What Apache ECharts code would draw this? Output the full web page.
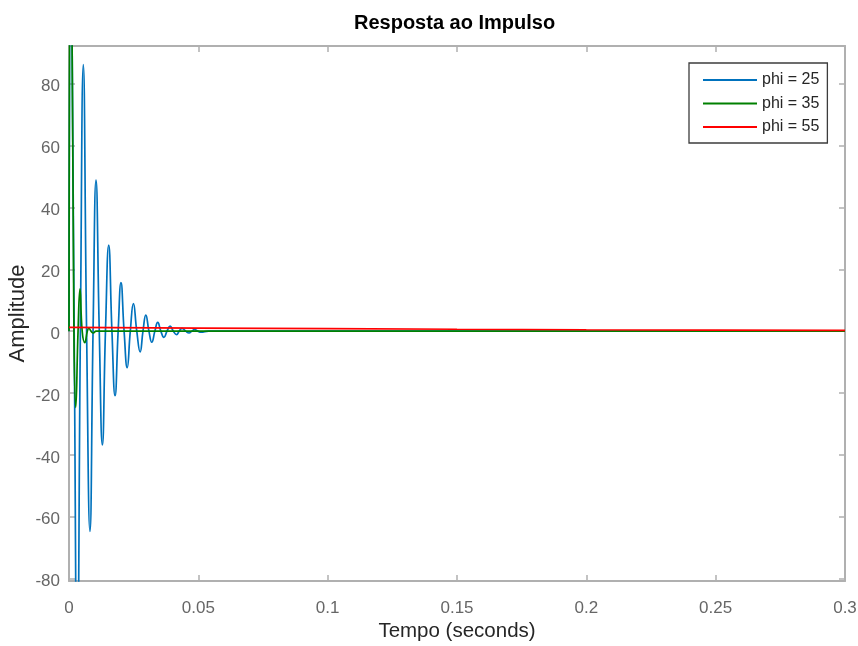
<!DOCTYPE html>
<html>
<head>
<meta charset="utf-8">
<script src="https://cdn.jsdelivr.net/npm/echarts@6/dist/echarts.min.js"></script>
<style>
  html, body { margin: 0; padding: 0; background: #fff; }
  #chart { width: 858px; height: 646px; }
</style>
</head>
<body>
<div id="chart"></div>
<script>
// ---- data ----
const seriesNames = ['phi = 25', 'phi = 35', 'phi = 55'];

const blueT = [0, 0.0008, 0.0020, 0.0032, 0.0044, 0.00553, 0.0068, 0.0081, 0.0093, 0.01044,
  0.0117, 0.0129, 0.0141, 0.01535, 0.0166, 0.0178, 0.0190, 0.0201, 0.0213, 0.0225,
  0.0237, 0.0249, 0.0262, 0.0275, 0.0286, 0.0297, 0.0309, 0.0320, 0.0332, 0.0343,
  0.0355, 0.0367, 0.0379, 0.0391, 0.0403, 0.0416, 0.0426, 0.0437, 0.0451, 0.0464,
  0.0475, 0.0485, 0.0498, 0.0510, 0.054, 0.06, 0.1, 0.2, 0.3];
const blueY = [0, 140, 0, -114, 0, 86.2, 0, -64.8, 0, 48.8,
  0, -36.8, 0, 27.8, 0, -20.9, 0, 15.7, 0, -11.8,
  0, 8.9, 0, -6.7, 0, 5.2, 0, -3.6, 0, 2.8,
  0, -2.0, 0, 1.6, 0, -1.1, 0, 0.9, 0, -0.6,
  0, 0.5, 0, -0.35, 0, 0, 0, 0, 0];

const greenT = [0, 0.0007, 0.0019, 0.0026, 0.0035, 0.00425, 0.0051, 0.0061, 0.0071, 0.0077,
  0.0085, 0.0094, 0.0105, 0.014, 0.1, 0.2, 0.3];
const greenY = [0, 160, 0, -24.7, 0, 13.7, 0, -3.7, 0, 1.0,
  0, -0.6, 0, 0, 0, 0, 0];

const redT = [0, 0.05, 0.1, 0.15, 0.2, 0.25, 0.3];
const redY = [1.2, 1.0, 0.8, 0.6, 0.45, 0.35, 0.25];

const xTicks = [0, 0.05, 0.1, 0.15, 0.2, 0.25, 0.3];
const yTicks = [-80, -60, -40, -20, 0, 20, 40, 60, 80];

// ---- chart ----
const pairs = (t, y) => t.map((v, i) => [v, y[i]]);
const FONT = 'Liberation Sans, Arial, Helvetica, sans-serif';
const axisGray = '#b0b0b0';
const labelGray = '#666666';

const chart = echarts.init(document.getElementById('chart'), null, { renderer: 'canvas' });

const xBase = {
  type: 'value', min: xTicks[0], max: xTicks[xTicks.length - 1], interval: 0.05,
  splitLine: { show: false },
  axisLine: { show: true, onZero: false, lineStyle: { color: axisGray, width: 2 } },
  axisTick: { show: true, inside: true, length: 6, lineStyle: { color: axisGray, width: 1.5 } }
};
const yBase = {
  type: 'value', min: -80.8, max: 92.2,
  splitLine: { show: false },
  axisLine: { show: true, onZero: false, lineStyle: { color: axisGray, width: 2 } },
  axisTick: { show: true, inside: true, length: 6, customValues: yTicks, lineStyle: { color: axisGray, width: 1.5 } }
};

chart.setOption({
  animation: false,
  backgroundColor: '#ffffff',
  title: {
    text: 'Resposta ao Impulso',
    left: 349, top: 8,
    textStyle: { fontFamily: FONT, fontSize: 20, fontWeight: 'bold', color: '#000' }
  },
  grid: { left: 69, right: 13, top: 46, bottom: 65, containLabel: false, outerBoundsMode: 'none' },
  legend: {
    orient: 'vertical', left: 689, top: 63,
    padding: [9, 8, 8, 13],
    itemWidth: 54, itemHeight: 14, itemGap: 7.5,
    borderColor: '#3c3c3c', borderWidth: 1.3, backgroundColor: '#fff',
    itemStyle: { opacity: 0 },
    textStyle: { fontFamily: FONT, fontSize: 16, color: '#262626' },
    data: seriesNames
  },
  xAxis: [
    Object.assign({}, xBase, {
      position: 'bottom',
      name: 'Tempo (seconds)', nameLocation: 'middle', nameGap: 40, nameMoveOverlap: false,
      nameTextStyle: { fontFamily: FONT, fontSize: 20.5, color: '#262626' },
      axisLabel: {
        fontFamily: FONT, fontSize: 17, color: labelGray, margin: 19,
        formatter: v => String(v)
      }
    }),
    Object.assign({}, xBase, { position: 'top', axisLabel: { show: false } })
  ],
  yAxis: [
    Object.assign({}, yBase, {
      position: 'left',
      name: 'Amplitude', nameLocation: 'middle', nameGap: 40, nameMoveOverlap: false,
      nameTextStyle: { fontFamily: FONT, fontSize: 22, color: '#262626' },
      axisLabel: {
        fontFamily: FONT, fontSize: 17, color: labelGray, margin: 9,
        verticalAlign: 'top', lineHeight: 6, customValues: yTicks
      }
    }),
    Object.assign({}, yBase, { position: 'right', axisLabel: { show: false } })
  ],
  series: [
    {
      name: seriesNames[0], type: 'line', data: pairs(blueT, blueY),
      symbol: 'none', smooth: 0.5, clip: true,
      lineStyle: { color: '#0072BD', width: 1.7 }, itemStyle: { color: '#0072BD' }
    },
    {
      name: seriesNames[1], type: 'line', data: pairs(greenT, greenY),
      symbol: 'none', smooth: 0.5, clip: true,
      lineStyle: { color: '#008000', width: 1.7 }, itemStyle: { color: '#008000' }
    },
    {
      name: seriesNames[2], type: 'line', data: pairs(redT, redY),
      symbol: 'none', smooth: false, clip: true,
      lineStyle: { color: '#ff0000', width: 1.7 }, itemStyle: { color: '#ff0000' }
    }
  ]
});
</script>
</body>
</html>
